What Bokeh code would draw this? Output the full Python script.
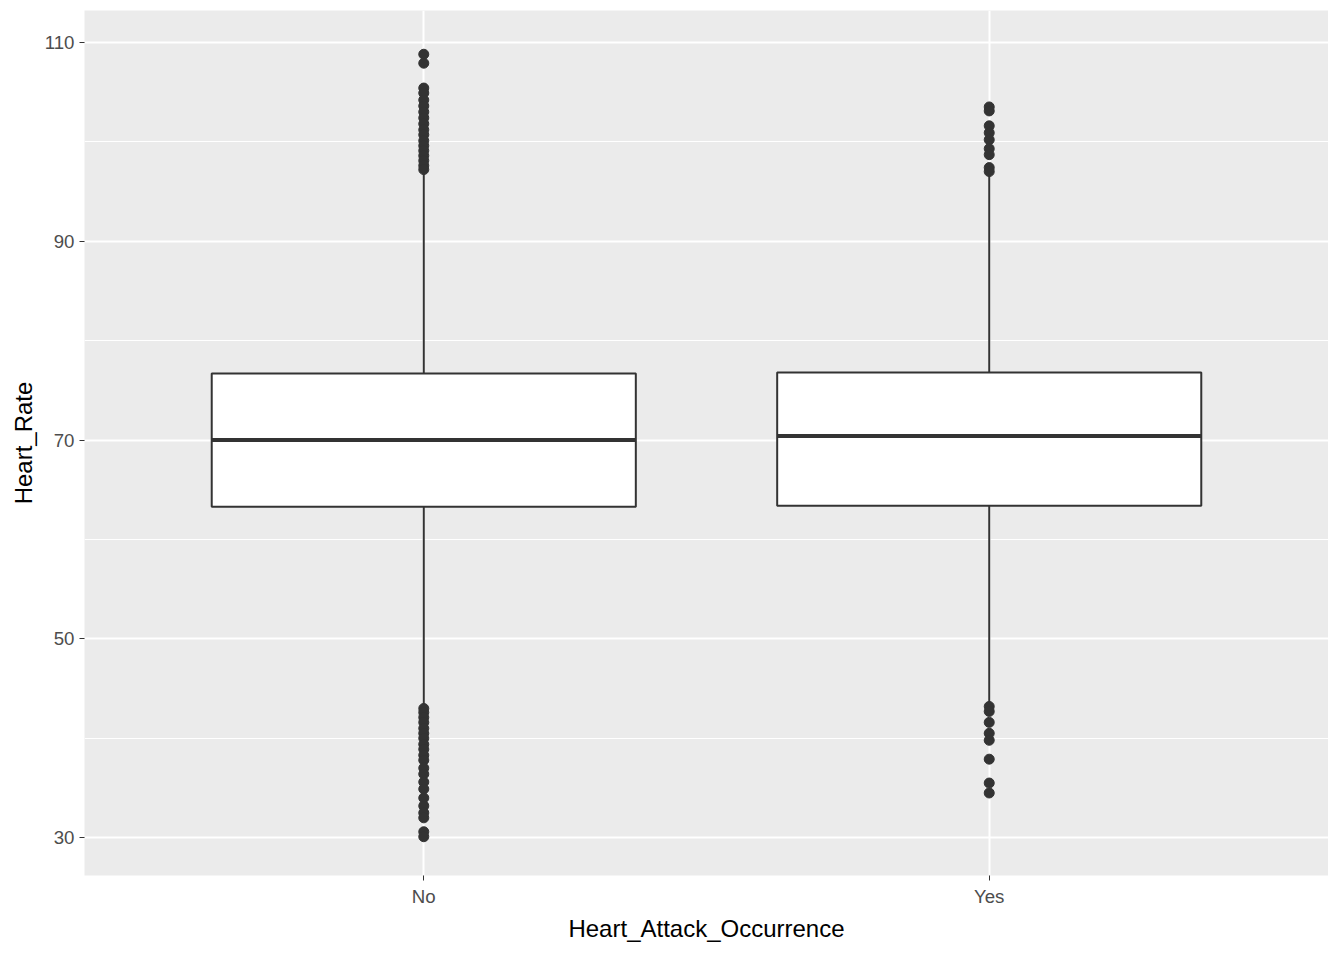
from bokeh.plotting import figure
from bokeh.models import FixedTicker
from bokeh.embed import file_html
from bokeh.resources import INLINE

groups = ["No", "Yes"]
q1 = [63.3, 63.4]
median = [70.0, 70.4]
q3 = [76.7, 76.8]
whisk_lo = [43.3, 43.3]
whisk_hi = [97.0, 97.0]
outliers = {
    "No": [108.8, 107.9, 105.4, 104.9, 104.2, 103.6, 103.0, 102.4, 101.8, 101.2, 100.7, 100.1,
           99.6, 99.1, 98.6, 98.1, 97.6, 97.2,
           43.0, 42.6, 42.1, 41.6, 41.0, 40.5, 40.0, 39.4, 38.9, 38.3, 37.8, 37.0, 36.4,
           35.6, 34.9, 34.0, 33.2, 32.5, 32.0, 30.6, 30.1],
    "Yes": [103.5, 103.1, 101.6, 100.9, 100.2, 99.3, 98.7, 97.4, 97.0,
            43.2, 42.7, 41.6, 40.5, 39.8, 37.9, 35.5, 34.5],
}

xs = [i + 1 for i in range(len(groups))]
half = 0.375

p = figure(width=1328, height=944, output_backend="svg", toolbar_location=None,
           x_range=(0.4, 2.6), y_range=(26.2, 113.2),
           x_axis_label="Heart_Attack_Occurrence", y_axis_label="Heart_Rate",
           background_fill_color="#EBEBEB", border_fill_color="white",
           min_border_left=84, min_border_bottom=60, min_border_top=10, min_border_right=0)
p.outline_line_color = None

p.xaxis.ticker = FixedTicker(ticks=xs)
p.xaxis.major_label_overrides = {x: g for x, g in zip(xs, groups)}
p.yaxis.ticker = FixedTicker(ticks=[30, 50, 70, 90, 110], minor_ticks=[40, 60, 80, 100])
for ax in (p.xaxis, p.yaxis):
    ax.axis_line_color = None
    ax.major_tick_line_color = "#333333"
    ax.major_tick_in = 0
    ax.major_tick_out = 5
    ax.minor_tick_line_color = None
    ax.major_label_text_color = "#4D4D4D"
    ax.major_label_text_font_size = "14pt"
    ax.major_label_text_font = "Liberation Sans"
    ax.axis_label_text_font_size = "18pt"
    ax.axis_label_text_font_style = "normal"
    ax.axis_label_text_font = "Liberation Sans"
    ax.axis_label_text_color = "black"
p.grid.grid_line_color = "white"
p.grid.grid_line_width = 2
p.ygrid.minor_grid_line_color = "white"
p.ygrid.minor_grid_line_width = 1
p.xgrid.minor_grid_line_color = None

p.segment(x0=xs, x1=xs, y0=whisk_lo, y1=q1, line_color="#333333", line_width=2)
p.segment(x0=xs, x1=xs, y0=q3, y1=whisk_hi, line_color="#333333", line_width=2)
p.quad(left=[x - half for x in xs], right=[x + half for x in xs], bottom=q1, top=q3,
       fill_color="white", line_color="#333333", line_width=2)
p.segment(x0=[x - half for x in xs], x1=[x + half for x in xs], y0=median, y1=median,
          line_color="#333333", line_width=4)
for x, g in zip(xs, groups):
    p.scatter([x] * len(outliers[g]), outliers[g], size=10, color="#333333")

open("out.html", "w").write(file_html(p, INLINE))
